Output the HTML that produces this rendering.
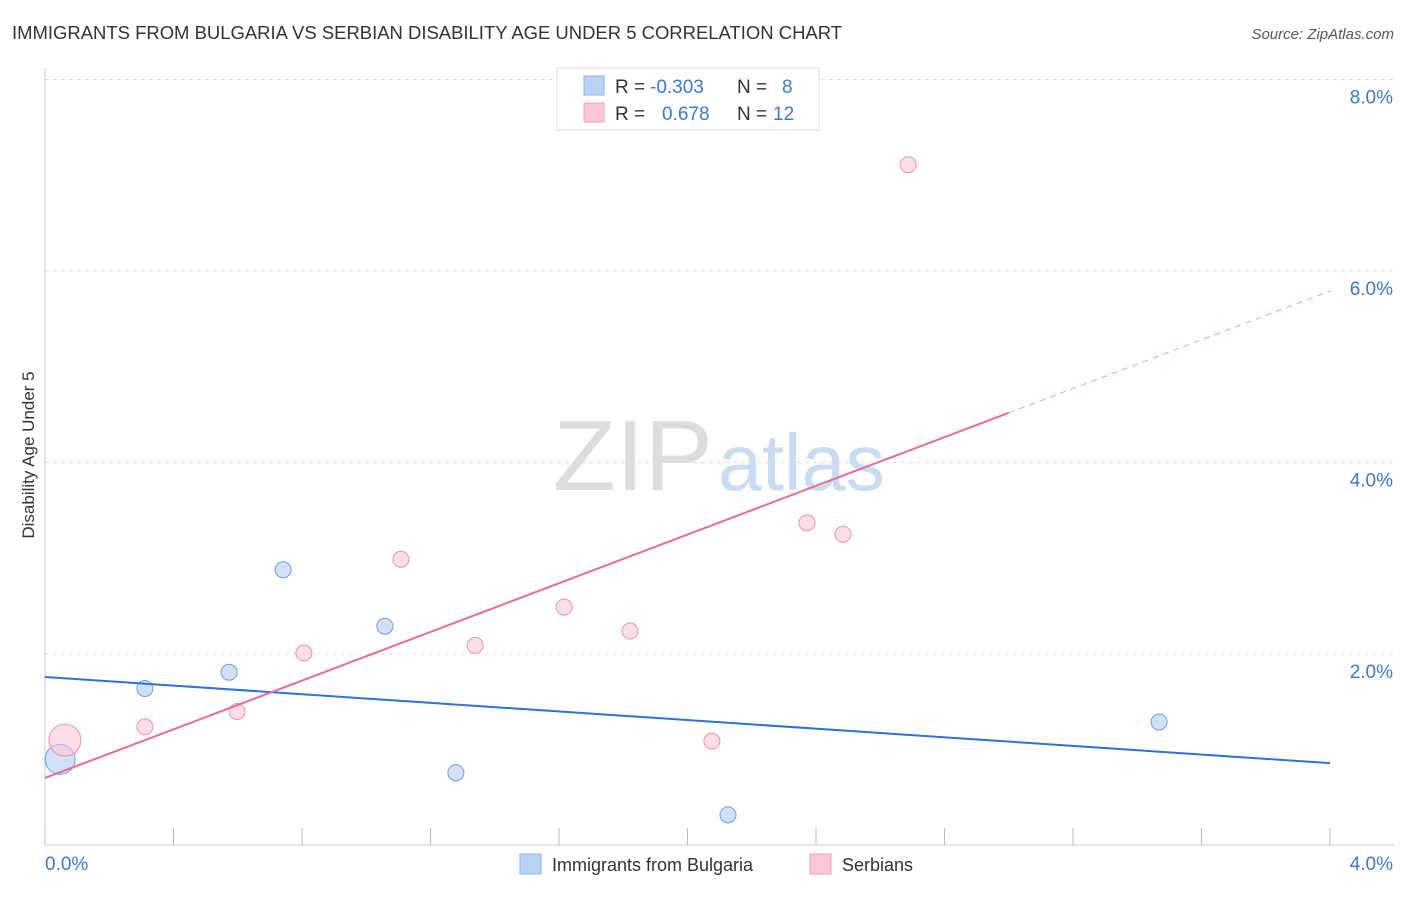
<!DOCTYPE html>
<html><head><meta charset="utf-8"><style>
body{margin:0;background:#fff;font-family:"Liberation Sans",sans-serif;}
svg text{font-family:"Liberation Sans",sans-serif;}
</style></head><body>
<svg id="chart" width="1406" height="892">
<text x="12" y="39" font-size="18" fill="#333" textLength="830" lengthAdjust="spacingAndGlyphs">IMMIGRANTS FROM BULGARIA VS SERBIAN DISABILITY AGE UNDER 5 CORRELATION CHART</text>
<text x="1394" y="39" font-size="15" fill="#555" font-style="italic" text-anchor="end">Source: ZipAtlas.com</text>
<text x="34" y="455" font-size="17" fill="#333" transform="rotate(-90 34 455)" text-anchor="middle">Disability Age Under 5</text>
<text x="553" y="490" font-size="100" fill="#ddd" font-family="Liberation Serif" textLength="160" lengthAdjust="spacingAndGlyphs">ZIP</text>
<text x="718" y="490" font-size="80" fill="#c8dcf2" textLength="167" lengthAdjust="spacingAndGlyphs">atlas</text>
<g id="grid"></g><g id="marks"></g>
<g>
<rect x="557" y="68" width="262" height="62" fill="#fff" stroke="#ddd"/>
<rect x="584" y="76" width="20" height="19" fill="#b9d3f5" stroke="#8fb4e8"/>
<rect x="584" y="103" width="20" height="19" fill="#fac8d6" stroke="#f0a0b8"/>
<text y="93" font-size="19" fill="#333"><tspan x="615">R =</tspan><tspan x="650" fill="#3a78d4">-0.303</tspan><tspan x="737">N =</tspan><tspan x="782" fill="#3a78d4">8</tspan></text>
<text y="120" font-size="19" fill="#333"><tspan x="615">R =</tspan><tspan x="662" fill="#3a78d4">0.678</tspan><tspan x="737">N =</tspan><tspan x="773" fill="#3a78d4">12</tspan></text>
</g>
<g>
<rect x="520" y="854" width="21" height="20" fill="#b9d3f5" stroke="#8fb4e8"/>
<text x="552" y="871" font-size="18" fill="#333">Immigrants from Bulgaria</text>
<rect x="810" y="854" width="21" height="20" fill="#fac8d6" stroke="#f0a0b8"/>
<text x="842" y="871" font-size="18" fill="#333">Serbians</text>
</g>
</svg>
<script>
const yTicks=[2,4,6,8];
const xTickLabels=["0.0%","4.0%"];
const blueX=[0.047,0.311,0.573,0.741,1.058,1.279,2.126,3.468];
const blueY=[0.90,1.64,1.81,2.88,2.29,0.76,0.32,1.29];
const blueR=[15,8,8,8,8,8,8,8];
const pinkX=[0.062,0.311,0.598,0.806,1.108,1.339,1.616,1.821,2.076,2.372,2.484,2.687];
const pinkY=[1.10,1.24,1.40,2.01,2.99,2.09,2.49,2.24,1.09,3.37,3.25,7.11];
const pinkR=[16,8,8,8,8,8,8,8,8,8,8,8];
const blueTrend=[1.76,0.86];
const pinkTrend=[0.705,5.79];
const pinkSolidEnd=3.0;
const NS="http://www.w3.org/2000/svg";
const sx=v=>45+v/4*1285;
const sy=v=>845.5-v*95.75;
const grid=document.getElementById('grid'),marks=document.getElementById('marks');
function mk(tag,attrs,parent){const e=document.createElementNS(NS,tag);for(const k in attrs)e.setAttribute(k,attrs[k]);parent.appendChild(e);return e;}
yTicks.forEach(t=>{
 const l=mk('line',{x1:45,x2:1394,y1:sy(t),y2:sy(t),stroke:'#ddd','stroke-dasharray':'4,4'},grid);
 
 
 const tx=mk('text',{x:1393,y:sy(t)+24,'font-size':19,fill:'#3a78d4','text-anchor':'end'},grid);
 tx.textContent=t.toFixed(1)+'%';
 
 
});
const ax=mk('line',{x1:45,x2:45,y1:68,y2:845,stroke:'#ccc'},grid);


const bx=mk('line',{x1:45,x2:1394,y1:845,y2:845,stroke:'#ccc'},grid);


for(let i=0;i<=10;i++){
 const t=mk('line',{x1:sx(i*0.4),x2:sx(i*0.4),y1:828,y2:845,stroke:'#bbb'},grid);
 
 
}
[[0,45,'start'],[4,1393,'end']].forEach((p,i)=>{
 const t=mk('text',{x:p[1],y:870,'font-size':19,fill:'#3a78d4','text-anchor':p[2]},grid);
 t.textContent=xTickLabels[i];
 
 
});
blueX.forEach((x,i)=>{
 const c=mk('circle',{cx:sx(x),cy:sy(blueY[i]),r:blueR[i],fill:'rgba(185,211,245,0.65)',stroke:'#6a9ee0','stroke-width':1},marks);
 
 
});
pinkX.forEach((x,i)=>{
 const c=mk('circle',{cx:sx(x),cy:sy(pinkY[i]),r:pinkR[i],fill:'rgba(250,200,214,0.6)',stroke:'#ec92ae','stroke-width':1},marks);
 
 
});
const bl=mk('line',{x1:sx(0),y1:sy(blueTrend[0]),x2:sx(4),y2:sy(blueTrend[1]),stroke:'#2f72d6','stroke-width':2},marks);


const py=x=>pinkTrend[0]+(pinkTrend[1]-pinkTrend[0])*x/4;
const pl=mk('line',{x1:sx(0),y1:sy(py(0)),x2:sx(pinkSolidEnd),y2:sy(py(pinkSolidEnd)),stroke:'#e8699a','stroke-width':2},marks);


const pd=mk('line',{x1:sx(pinkSolidEnd),y1:sy(py(pinkSolidEnd)),x2:sx(4),y2:sy(py(4)),stroke:'#eea0bb','stroke-width':1,'stroke-dasharray':'6,5'},marks);


</script>
</body></html>
